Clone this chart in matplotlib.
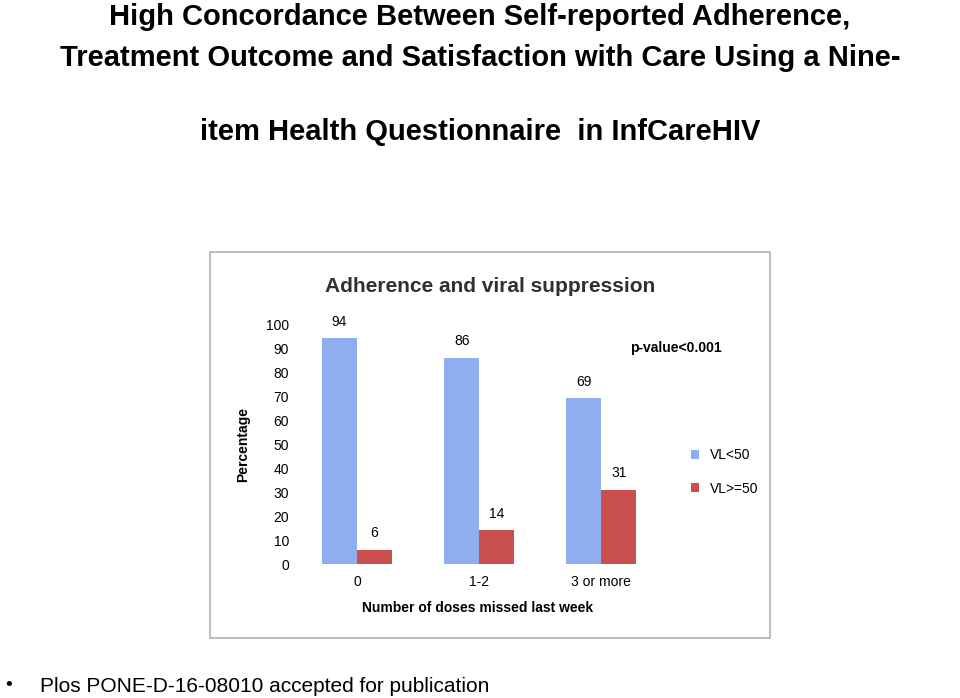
import numpy as np
import matplotlib
matplotlib.use("Agg")
import matplotlib.pyplot as plt
from matplotlib.patches import Rectangle

categories = ["0", "1-2", "3 or more"]
vl_below = [94, 86, 69]
vl_above = [6, 14, 31]
series_names = ["VL<50", "VL>=50"]

W, H = 960, 698
fig = plt.figure(figsize=(9.6, 6.98), dpi=100)
plt.rcParams["font.family"] = "Liberation Sans"

def fx(px): return px / W
def fy(py): return 1 - py / H

# slide title
title_lines = ["High Concordance Between Self-reported Adherence,",
               "Treatment Outcome and Satisfaction with Care Using a Nine-",
               "item Health Questionnaire  in InfCareHIV"]
for txt, py in zip(title_lines, [17, 58, 132]):
    fig.text(0.5, fy(py), txt, ha="center", va="center", fontsize=21, fontweight="bold")

# chart frame
fig.patches.append(Rectangle((fx(210), fy(638)), fx(770) - fx(210), fy(252) - fy(638),
                             transform=fig.transFigure, fill=False, edgecolor="#b0b0b0", lw=1.2))
fig.text(fx(490), fy(287), "Adherence and viral suppression", ha="center", va="center",
         fontsize=15, fontweight="bold", color="#303030")

ax = fig.add_axes([fx(300), fy(564), fx(660) - fx(300), fy(324) - fy(564)])
x = np.arange(len(categories))
w = 0.287
b1 = ax.bar(x - w / 2, vl_below, w, color="#8eaef0", label=series_names[0])
b2 = ax.bar(x + w / 2, vl_above, w, color="#c9504d", label=series_names[1])
for bars, vals in [(b1, vl_below), (b2, vl_above)]:
    for r, v in zip(bars, vals):
        ax.text(r.get_x() + r.get_width() / 2, v + 4, str(v), ha="center", va="bottom", fontsize=10)
ax.set_xlim(-0.467, 2.48)
ax.set_ylim(0, 100)
ax.set_yticks(range(0, 101, 10))
ax.set_xticks(x)
ax.set_xticklabels(categories)
ax.tick_params(length=0, labelsize=10, pad=8)
for s in ax.spines.values():
    s.set_visible(False)

fig.text(fx(243), fy(444), "Percentage", rotation=90, ha="center", va="center",
         fontsize=10, fontweight="bold")
fig.text(fx(478), fy(608), "Number of doses missed last week", ha="center", va="center",
         fontsize=10, fontweight="bold")
fig.text(fx(630), fy(348), "p-value<0.001", ha="left", va="center", fontsize=10, fontweight="bold")
fig.legend(handles=[b1, b2], loc="center left", bbox_to_anchor=(fx(678), fy(472)),
           frameon=False, fontsize=10, handlelength=0.6, handleheight=0.6, labelspacing=1.4)

fig.text(fx(5), fy(686), "\u2022", ha="left", va="center", fontsize=14)
fig.text(fx(40), fy(686), "Plos PONE-D-16-08010 accepted for publication", ha="left",
         va="center", fontsize=15)

fig.savefig("out.png", dpi=100)
